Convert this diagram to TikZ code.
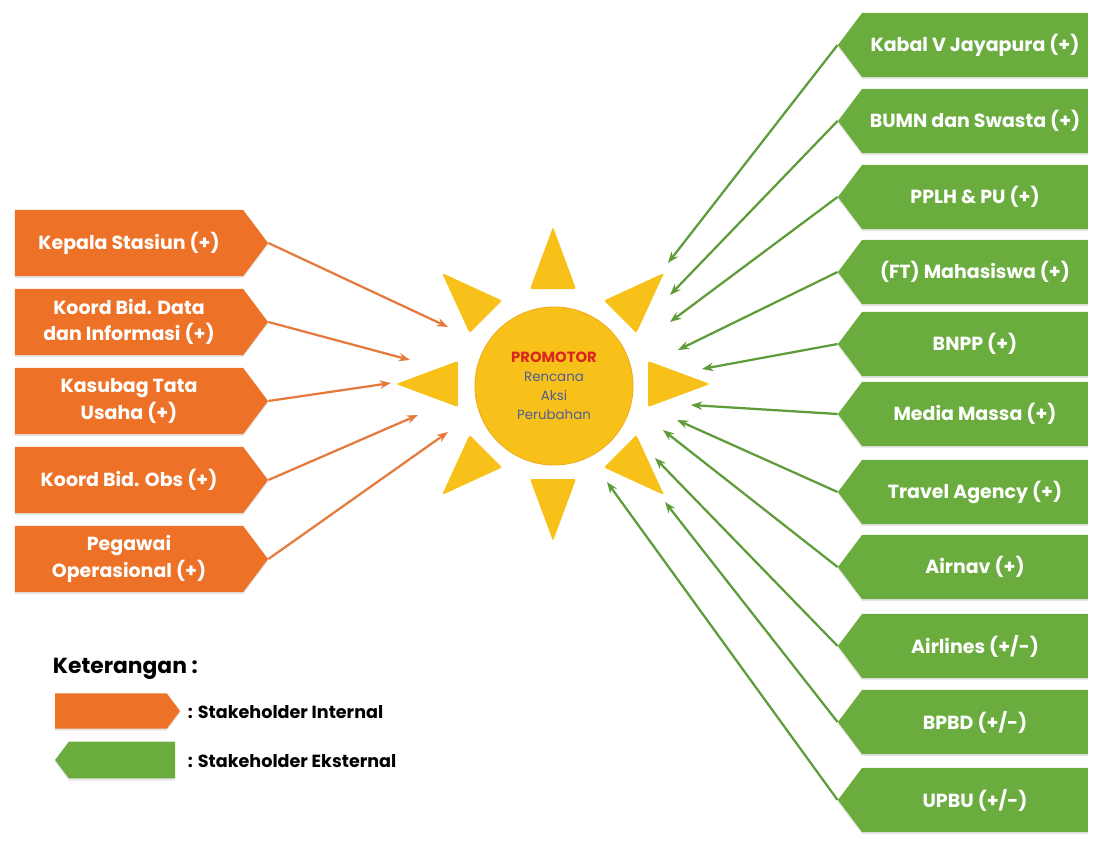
\documentclass[tikz,border=0pt]{standalone}
\usepackage{fontspec}
\setmainfont{Poppins}
\usepackage{tikz}
\usetikzlibrary{shapes.symbols, arrows.meta, shadows}

\definecolor{intorange}{HTML}{EE7128}
\definecolor{extgreen}{HTML}{6AAD3E}
\definecolor{sunyellow}{HTML}{F7C11A}
\definecolor{sunrim}{HTML}{F0A81C}
\definecolor{promored}{HTML}{D8261E}
\definecolor{promoblue}{HTML}{4E5E96}
\definecolor{intline}{HTML}{E57A3E}
\definecolor{extline}{HTML}{5E9C3A}

\tikzstyle{Internal}=[signal, signal to=east, signal pointer angle=106, fill=intorange, text=white, font=\bfseries\fontsize{13.5}{19}\selectfont, align=center, minimum width=6.33cm, minimum height=1.65cm, inner sep=1pt, drop shadow={opacity=0.2, shadow xshift=0pt, shadow yshift=-1.5pt}]
\tikzstyle{Eksternal}=[signal, signal to=west, signal pointer angle=106, fill=extgreen, text=white, font=\bfseries\fontsize{13.5}{19}\selectfont, align=center, minimum width=6.25cm, minimum height=1.6cm, inner sep=1pt, drop shadow={opacity=0.2, shadow xshift=0pt, shadow yshift=-1.5pt}]
\tikzstyle{Ray}=[fill=sunyellow, rounded corners=1.5pt]
\tikzstyle{IntArrow}=[draw=intline, line width=1.6pt, -{Stealth[length=8pt, width=6pt]}]
\tikzstyle{ExtArrow}=[draw=extline, line width=1.6pt, -{Stealth[length=8pt, width=6pt]}]

\begin{document}
\begin{tikzpicture}[x=0.025cm, y=-0.025cm]
    \useasboundingbox (0,0) rectangle (1100,841);

    % sun: rays first, disc on top
    \foreach \a in {0,45,...,315}
        \fill[Ray, shift={(553,384)}, rotate=\a] (95,-23) -- (157,0) -- (95,23) -- cycle;
    \node[circle, fill=sunyellow, draw=sunrim, line width=0.6pt, minimum size=3.95cm, align=center,
          font=\fontsize{9.5}{13.5}\selectfont, text=promoblue] (sun) at (554,386)
        {{\color{promored}\bfseries\fontsize{10.5}{13.5}\selectfont PROMOTOR}\\Rencana\\Aksi\\Perubahan};

    % internal stakeholders
    \path
    (129,243) node[Internal] (kepala) {Kepala Stasiun (+)}
    (129,322) node[Internal] (datainfo) {Koord Bid. Data\\dan Informasi (+)}
    (129,401) node[Internal] (kasubag) {Kasubag Tata\\Usaha (+)}
    (129,480) node[Internal] (obs) {Koord Bid. Obs (+)}
    (129,559) node[Internal] (pegawai) {Pegawai\\Operasional (+)}
    coordinate[] (kepala-in) at (448,327)
    coordinate[] (datainfo-in) at (410,360)
    coordinate[] (kasubag-in) at (391,383)
    coordinate[] (obs-in) at (418,415)
    coordinate[] (pegawai-in) at (448,432);

    % external stakeholders
    \path
    (975,45) node[Eksternal] (kabal) {Kabal V Jayapura (+)}
    (975,121) node[Eksternal] (bumn) {BUMN dan Swasta (+)}
    (975,197) node[Eksternal] (pplh) {PPLH \& PU (+)}
    (975,272) node[Eksternal] (ft) {(FT) Mahasiswa (+)}
    (975,344) node[Eksternal] (bnpp) {BNPP (+)}
    (975,414) node[Eksternal] (media) {Media Massa (+)}
    (975,492) node[Eksternal] (travel) {Travel Agency (+)}
    (975,567) node[Eksternal] (airnav) {Airnav (+)}
    (975,646) node[Eksternal] (airlines) {Airlines (+/-)}
    (975,722) node[Eksternal] (bpbd) {BPBD (+/-)}
    (975,800) node[Eksternal] (upbu) {UPBU (+/-)}
    coordinate[] (kabal-in) at (668,263)
    coordinate[] (bumn-in) at (670,295)
    coordinate[] (pplh-in) at (670,322)
    coordinate[] (ft-in) at (678,350)
    coordinate[] (bnpp-in) at (702,369)
    coordinate[] (media-in) at (691,405)
    coordinate[] (travel-in) at (677,420)
    coordinate[] (airnav-in) at (663,430)
    coordinate[] (airlines-in) at (655,458)
    coordinate[] (bpbd-in) at (665,502)
    coordinate[] (upbu-in) at (607,482);

    \draw[IntArrow] (kepala.east) -- (kepala-in);
    \draw[IntArrow] (datainfo.east) -- (datainfo-in);
    \draw[IntArrow] (kasubag.east) -- (kasubag-in);
    \draw[IntArrow] (obs.east) -- (obs-in);
    \draw[IntArrow] (pegawai.east) -- (pegawai-in);

    \draw[ExtArrow] (kabal.west) -- (kabal-in);
    \draw[ExtArrow] (bumn.west) -- (bumn-in);
    \draw[ExtArrow] (pplh.west) -- (pplh-in);
    \draw[ExtArrow] (ft.west) -- (ft-in);
    \draw[ExtArrow] (bnpp.west) -- (bnpp-in);
    \draw[ExtArrow] (media.west) -- (media-in);
    \draw[ExtArrow] (travel.west) -- (travel-in);
    \draw[ExtArrow] (airnav.west) -- (airnav-in);
    \draw[ExtArrow] (airlines.west) -- (airlines-in);
    \draw[ExtArrow] (bpbd.west) -- (bpbd-in);
    \draw[ExtArrow] (upbu.west) -- (upbu-in);

    % legend
    \node[anchor=west, font=\bfseries\fontsize{15.5}{18}\selectfont] (keterangan) at (48,669) {Keterangan :};
    \node[Internal, minimum width=3.12cm, minimum height=0.88cm] (leg-int) at (111,711) {};
    \node[Eksternal, minimum width=3cm, minimum height=0.92cm] (leg-ext) at (122,760) {};
    \node[anchor=west, font=\bfseries\fontsize{12.5}{15}\selectfont] (leg-int-txt) at (183,712) {: Stakeholder Internal};
    \node[anchor=west, font=\bfseries\fontsize{12.5}{15}\selectfont] (leg-ext-txt) at (183,761) {: Stakeholder Eksternal};
\end{tikzpicture}
\end{document}
